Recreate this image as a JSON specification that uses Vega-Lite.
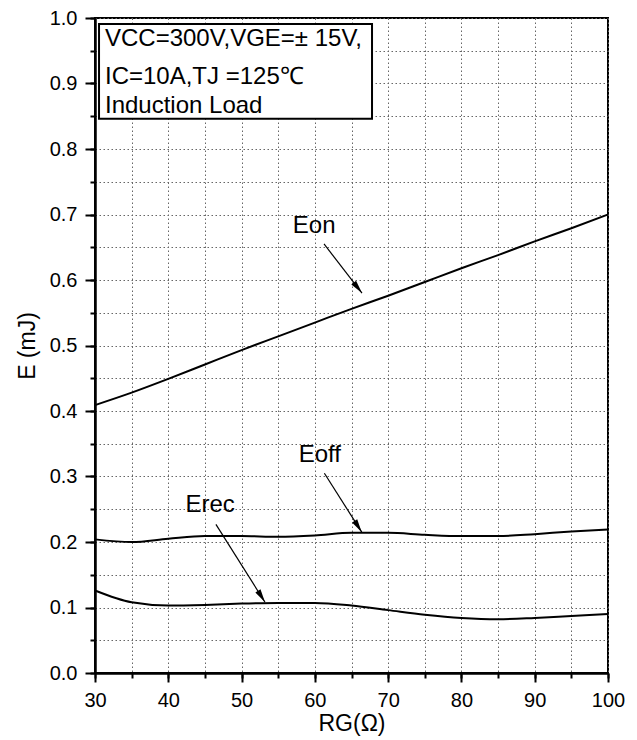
{
  "$schema": "https://vega.github.io/schema/vega-lite/v6.json",
  "width": 513,
  "height": 655,
  "padding": {"left": 16, "top": 8, "right": 5, "bottom": 5},
  "background": "white",
  "config": {"view": {"stroke": "black", "strokeWidth": 2}, "font": "Liberation Sans"},
  "resolve": {"axis": {"x": "independent", "y": "independent"}},
  "datasets": {
    "curves": [
      {"curve": "Eon", "Rg": 30, "E": 0.409}, {"curve": "Eon", "Rg": 35, "E": 0.428}, {"curve": "Eon", "Rg": 40, "E": 0.449},
      {"curve": "Eon", "Rg": 45, "E": 0.471}, {"curve": "Eon", "Rg": 50, "E": 0.493}, {"curve": "Eon", "Rg": 55, "E": 0.514},
      {"curve": "Eon", "Rg": 60, "E": 0.535}, {"curve": "Eon", "Rg": 65, "E": 0.556}, {"curve": "Eon", "Rg": 70, "E": 0.576},
      {"curve": "Eon", "Rg": 75, "E": 0.597}, {"curve": "Eon", "Rg": 80, "E": 0.618}, {"curve": "Eon", "Rg": 85, "E": 0.638},
      {"curve": "Eon", "Rg": 90, "E": 0.659}, {"curve": "Eon", "Rg": 95, "E": 0.679}, {"curve": "Eon", "Rg": 100, "E": 0.700},
      {"curve": "Eoff", "Rg": 30, "E": 0.204}, {"curve": "Eoff", "Rg": 35, "E": 0.200}, {"curve": "Eoff", "Rg": 40, "E": 0.205},
      {"curve": "Eoff", "Rg": 45, "E": 0.209}, {"curve": "Eoff", "Rg": 50, "E": 0.209}, {"curve": "Eoff", "Rg": 55, "E": 0.208},
      {"curve": "Eoff", "Rg": 60, "E": 0.210}, {"curve": "Eoff", "Rg": 65, "E": 0.214}, {"curve": "Eoff", "Rg": 70, "E": 0.214},
      {"curve": "Eoff", "Rg": 75, "E": 0.211}, {"curve": "Eoff", "Rg": 80, "E": 0.209}, {"curve": "Eoff", "Rg": 85, "E": 0.209},
      {"curve": "Eoff", "Rg": 90, "E": 0.212}, {"curve": "Eoff", "Rg": 95, "E": 0.216}, {"curve": "Eoff", "Rg": 100, "E": 0.219},
      {"curve": "Erec", "Rg": 30, "E": 0.126}, {"curve": "Erec", "Rg": 35, "E": 0.108}, {"curve": "Erec", "Rg": 40, "E": 0.103},
      {"curve": "Erec", "Rg": 45, "E": 0.104}, {"curve": "Erec", "Rg": 50, "E": 0.106}, {"curve": "Erec", "Rg": 55, "E": 0.107},
      {"curve": "Erec", "Rg": 60, "E": 0.107}, {"curve": "Erec", "Rg": 65, "E": 0.103}, {"curve": "Erec", "Rg": 70, "E": 0.096},
      {"curve": "Erec", "Rg": 75, "E": 0.089}, {"curve": "Erec", "Rg": 80, "E": 0.084}, {"curve": "Erec", "Rg": 85, "E": 0.082},
      {"curve": "Erec", "Rg": 90, "E": 0.084}, {"curve": "Erec", "Rg": 95, "E": 0.087}, {"curve": "Erec", "Rg": 100, "E": 0.090}
    ],
    "box": [{"x1": 30.55, "x2": 67.8, "y1": 0.846, "y2": 0.991}],
    "legend": [
      {"x": 31.36, "y": 0.968, "text": "VCC=300V,VGE=± 15V,"},
      {"x": 31.36, "y": 0.910, "text": "IC=10A,TJ =125℃"},
      {"x": 31.36, "y": 0.866, "text": "Induction Load"}
    ],
    "labels": [
      {"x": 59.9, "y": 0.682, "text": "Eon"},
      {"x": 60.67, "y": 0.333, "text": "Eoff"},
      {"x": 45.71, "y": 0.257, "text": "Erec"}
    ],
    "arrows": [
      {"curve": "Eon", "x1": 61.25, "y1": 0.655, "x2": 66.43, "y2": 0.580},
      {"curve": "Eoff", "x1": 61.3, "y1": 0.305, "x2": 66.4, "y2": 0.215},
      {"curve": "Erec", "x1": 46.5, "y1": 0.227, "x2": 53.2, "y2": 0.108}
    ]
  },
  "layer": [
    {
      "data": {"name": "curves"},
      "mark": {"type": "line", "color": "black", "strokeWidth": 2, "interpolate": "monotone"},
      "encoding": {
        "x": {
          "field": "Rg", "type": "quantitative",
          "scale": {"domain": [30, 100], "nice": false, "zero": false},
          "axis": {
            "orient": "bottom",
            "values": [30, 35, 40, 45, 50, 55, 60, 65, 70, 75, 80, 85, 90, 95, 100],
            "labels": false, "title": null,
            "grid": true, "gridDash": [1.5, 2.5], "gridColor": "#666", "gridWidth": 1,
            "tickSize": 5, "tickColor": "black", "tickWidth": 2,
            "domainColor": "black", "domainWidth": 2
          }
        },
        "y": {
          "field": "E", "type": "quantitative",
          "scale": {"domain": [0, 1], "nice": false},
          "axis": {
            "orient": "left",
            "values": [0, 0.05, 0.1, 0.15, 0.2, 0.25, 0.3, 0.35, 0.4, 0.45, 0.5, 0.55, 0.6, 0.65, 0.7, 0.75, 0.8, 0.85, 0.9, 0.95, 1.0],
            "labels": false, "title": null,
            "grid": true, "gridDash": [1.5, 2.5], "gridColor": "#666", "gridWidth": 1,
            "tickSize": 5, "tickColor": "black", "tickWidth": 2,
            "domainColor": "black", "domainWidth": 2
          }
        },
        "detail": {"field": "curve"}
      }
    },
    {
      "data": {"name": "box"},
      "mark": {"type": "rect", "fill": "white", "stroke": "black", "strokeWidth": 2},
      "encoding": {
        "x": {"field": "x1", "type": "quantitative", "axis": null},
        "x2": {"field": "x2"},
        "y": {"field": "y1", "type": "quantitative", "axis": null},
        "y2": {"field": "y2"}
      }
    },
    {
      "data": {"name": "legend"},
      "mark": {"type": "text", "align": "left", "baseline": "middle", "fontSize": 24, "color": "black", "font": "Liberation Sans"},
      "encoding": {
        "x": {"field": "x", "type": "quantitative", "axis": null},
        "y": {"field": "y", "type": "quantitative", "axis": null},
        "text": {"field": "text"}
      }
    },
    {
      "data": {"name": "labels"},
      "mark": {"type": "text", "align": "center", "baseline": "middle", "fontSize": 24, "color": "black", "font": "Liberation Sans"},
      "encoding": {
        "x": {
          "field": "x", "type": "quantitative",
          "axis": {
            "orient": "bottom",
            "values": [30, 40, 50, 60, 70, 80, 90, 100],
            "grid": false,
            "tickSize": 9, "tickColor": "black", "tickWidth": 2,
            "domainColor": "black", "domainWidth": 2,
            "labelFontSize": 20, "labelColor": "black", "labelPadding": 8,
            "labelFlush": false, "labelOverlap": false,
            "title": "RG(Ω)", "titleFontSize": 23, "titleFontWeight": "normal", "titleColor": "black", "titlePadding": 2
          }
        },
        "y": {
          "field": "y", "type": "quantitative",
          "axis": {
            "orient": "left",
            "values": [0, 0.1, 0.2, 0.3, 0.4, 0.5, 0.6, 0.7, 0.8, 0.9, 1.0],
            "format": ".1f",
            "grid": false,
            "tickSize": 10, "tickColor": "black", "tickWidth": 2,
            "domainColor": "black", "domainWidth": 2,
            "labelFontSize": 20, "labelColor": "black", "labelPadding": 8,
            "labelFlush": false, "labelOverlap": false,
            "title": "E (mJ)", "titleFontSize": 23, "titleFontWeight": "normal", "titleColor": "black", "titlePadding": 10
          }
        },
        "text": {"field": "text"}
      }
    },
    {
      "data": {"name": "arrows"},
      "mark": {"type": "rule", "color": "black", "strokeWidth": 1.2},
      "encoding": {
        "x": {"field": "x1", "type": "quantitative", "axis": null},
        "y": {"field": "y1", "type": "quantitative", "axis": null},
        "x2": {"field": "x2"},
        "y2": {"field": "y2"}
      }
    },
    {
      "data": {"name": "arrows"},
      "transform": [{"filter": "datum.curve === 'Eon'"}],
      "mark": {"type": "point", "shape": "M0,0L0.45,2L-0.45,2Z", "filled": true, "color": "black", "size": 180, "angle": 142, "opacity": 1},
      "encoding": {
        "x": {"field": "x2", "type": "quantitative", "axis": null},
        "y": {"field": "y2", "type": "quantitative", "axis": null}
      }
    },
    {
      "data": {"name": "arrows"},
      "transform": [{"filter": "datum.curve !== 'Eon'"}],
      "mark": {"type": "point", "shape": "M0,0L0.45,2L-0.45,2Z", "filled": true, "color": "black", "size": 180, "angle": 148, "opacity": 1},
      "encoding": {
        "x": {"field": "x2", "type": "quantitative", "axis": null},
        "y": {"field": "y2", "type": "quantitative", "axis": null}
      }
    }
  ]
}
